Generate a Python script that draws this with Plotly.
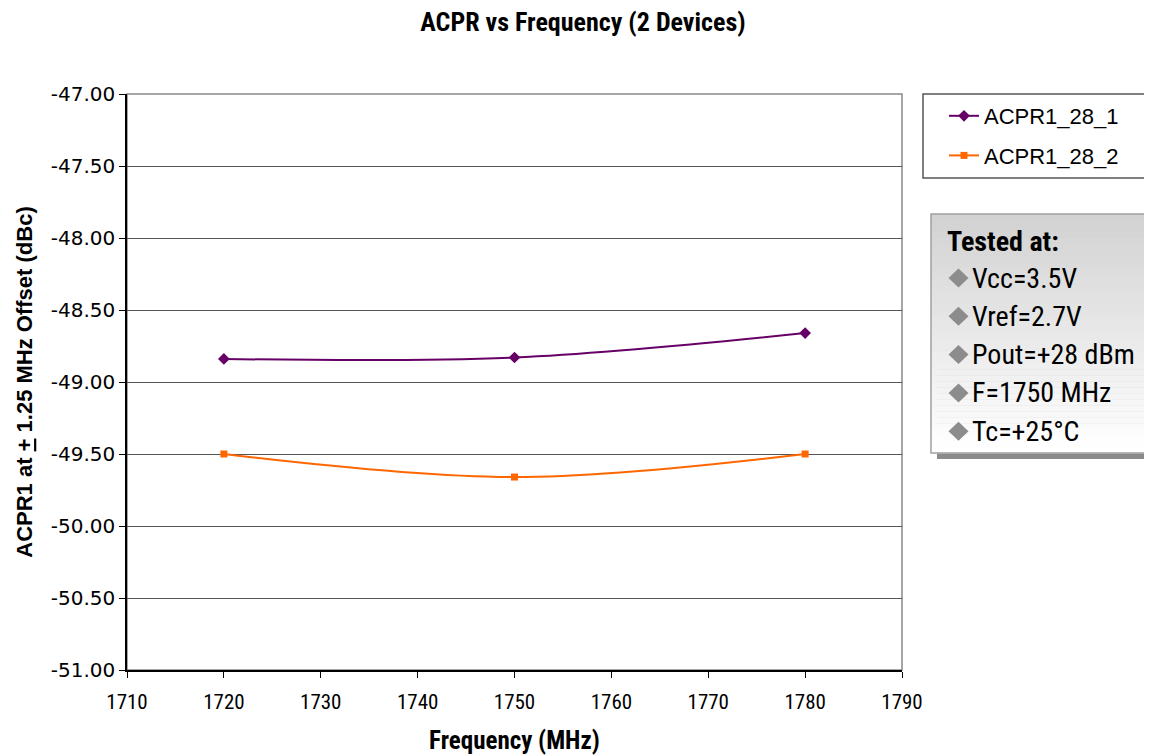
import plotly.graph_objects as go

freq = [1720, 1750, 1780]
acpr_1 = [-48.84, -48.83, -48.66]
acpr_2 = [-49.50, -49.66, -49.50]
series_names = ["ACPR1_28_1", "ACPR1_28_2"]
y_ticks = [-51.0, -50.5, -50.0, -49.5, -49.0, -48.5, -48.0, -47.5, -47.0]
x_ticks = [1710, 1720, 1730, 1740, 1750, 1760, 1770, 1780, 1790]
test_conditions = ["Vcc=3.5V", "Vref=2.7V", "Pout=+28 dBm", "F=1750 MHz", "Tc=+25°C"]

OFF = 8  # page body margin
W, H = 1152 - OFF, 755 - OFF
L, R, T, B = 127, 902, 94, 670  # plot area in page pixels
NARROW = "Roboto Condensed, Liberation Sans Narrow, DejaVu Sans Condensed, sans-serif"
ARIAL = "Liberation Sans, Arial, sans-serif"
WIDE = "DejaVu Sans, Liberation Sans, sans-serif"


def px(x):
    return (x - L) / (R - L)


def py(y):
    return (B - y) / (B - T)


fig = go.Figure()
fig.add_trace(go.Scatter(
    x=freq, y=acpr_1, name=series_names[0], mode="lines+markers",
    line=dict(color="#660066", width=2, shape="spline", smoothing=1),
    marker=dict(symbol="diamond", size=9, color="#660066"),
    legendgroup="a"))
fig.add_trace(go.Scatter(
    x=freq, y=acpr_2, name=series_names[1], mode="lines+markers",
    line=dict(color="#ff6600", width=2, shape="spline", smoothing=1),
    marker=dict(symbol="square", size=7, color="#ff6600"),
    legendgroup="b"))

shapes = []
shapes.append(dict(type="rect", xref="paper", yref="paper", x0=0, x1=1, y0=0, y1=1,
                   line=dict(color="#888888", width=1.5), layer="below"))
# legend frame
shapes.append(dict(type="rect", xref="paper", yref="paper",
                   x0=px(923), x1=px(1150), y0=py(178), y1=py(94),
                   fillcolor="white", line=dict(color="#555555", width=1.5), layer="below"))
# Tested-at box shadow
bx0, bx1, by0, by1 = 931, 1160, 214, 453
shapes.append(dict(type="rect", xref="paper", yref="paper",
                   x0=px(bx0 + 6), x1=px(bx1 + 6), y0=py(by1 + 6), y1=py(by0 + 6),
                   fillcolor="#8a8a8a", line=dict(width=0), layer="above"))
n = 40
for i in range(n):
    t = i / (n - 1)
    c = int(round(0xd2 + (0xff - 0xd2) * t))
    ya = by0 + (by1 - by0) * i / n
    yb = by0 + (by1 - by0) * (i + 1) / n
    shapes.append(dict(type="rect", xref="paper", yref="paper",
                       x0=px(bx0), x1=px(bx1), y0=py(yb + 0.5), y1=py(ya),
                       fillcolor=f"rgb({c},{c},{c})", line=dict(width=0), layer="above"))
shapes.append(dict(type="rect", xref="paper", yref="paper",
                   x0=px(bx0), x1=px(bx1), y0=py(by1), y1=py(by0),
                   fillcolor="rgba(0,0,0,0)", line=dict(color="#a0a0a0", width=1.5), layer="above"))

annotations = []
annotations.append(dict(xref="paper", yref="paper", x=px(945), y=py(241), xanchor="left", yanchor="middle",
                        text="<b>Tested at:</b>", showarrow=False,
                        font=dict(family=NARROW, size=28, color="#000000")))
for i, cond in enumerate(test_conditions):
    yy = 278 + i * 38.3
    cx, hw, hh = 958.5, 10, 9.5
    path = (f"M {px(cx - hw)} {py(yy)} L {px(cx)} {py(yy - hh)} "
            f"L {px(cx + hw)} {py(yy)} L {px(cx)} {py(yy + hh)} Z")
    shapes.append(dict(type="path", xref="paper", yref="paper", path=path,
                       fillcolor="#8c8c8c", line=dict(width=0), layer="above"))
    annotations.append(dict(xref="paper", yref="paper", x=px(970), y=py(yy), xanchor="left", yanchor="middle",
                            text=cond, showarrow=False,
                            font=dict(family=NARROW, size=28, color="#000000")))

fig.update_layout(
    width=W, height=H,
    margin=dict(l=L - OFF, r=W - (R - OFF), t=T - OFF, b=H - (B - OFF), autoexpand=False),
    paper_bgcolor="white", plot_bgcolor="white",
    title=dict(text="<b>ACPR vs Frequency (2 Devices)</b>", x=(583 - OFF) / W, xanchor="center",
               y=1 - (22 - OFF) / H, yanchor="middle",
               font=dict(family=NARROW, size=26, color="#000000")),
    xaxis=dict(range=[1710, 1790], tickvals=x_ticks, ticktext=[str(v) for v in x_ticks],
               showgrid=False, zeroline=False, showline=True, linecolor="#000000", linewidth=1.5,
               ticks="outside", ticklen=6, tickcolor="#000000", ticklabelstandoff=6,
               tickfont=dict(family=NARROW, size=21, color="#000000"),
               title=dict(text="<b>Frequency (MHz)</b>", standoff=22,
                          font=dict(family=NARROW, size=25, color="#000000"))),
    yaxis=dict(range=[-51, -47], tickvals=y_ticks, ticktext=[f"{v:.2f}" for v in y_ticks],
               showgrid=True, gridcolor="#555555", gridwidth=1, zeroline=False,
               showline=True, linecolor="#000000", linewidth=1.5,
               ticks="outside", ticklen=6, tickcolor="#000000",
               tickfont=dict(family=WIDE, size=20, color="#000000"),
               title=dict(text="<b>ACPR1 at <span style='text-decoration:underline'>+</span> 1.25 MHz Offset (dBc)</b>",
                          standoff=12, font=dict(family=ARIAL, size=22, color="#000000"))),
    legend=dict(x=px(944), y=py(95), xanchor="left", yanchor="top",
                bgcolor="rgba(0,0,0,0)", borderwidth=0,
                font=dict(family=ARIAL, size=22, color="#000000"),
                tracegroupgap=8, itemwidth=30),
    shapes=shapes, annotations=annotations,
)

fig.write_html("out.html")
